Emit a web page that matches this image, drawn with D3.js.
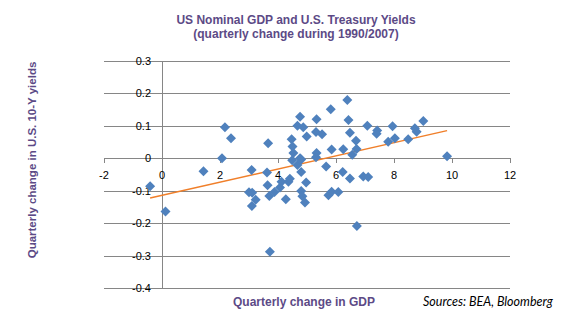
<!DOCTYPE html>
<html>
<head>
    <meta charset="utf-8">
    <title>US Nominal GDP and U.S. Treasury Yields</title>
    <script src="https://d3js.org/d3.v7.min.js"></script>
    <style>
        body {
            margin: 0;
            background-color: #FFFFFF;
        }
        .title, .axis-title {
            font-family: "Liberation Sans", Arial, sans-serif;
            font-weight: bold;
            fill: #5C4A86;
        }
        .tick-label {
            font-family: "Liberation Sans", Arial, sans-serif;
            font-size: 11px;
            fill: #000000;
        }
    </style>
</head>
<body>
    <div id="chart"></div>

    <script>
        // Quarterly change in GDP (x) and in 10-Y yields (y)
        var gdpChange = [
            -0.41, 0.12, 1.43, 2.07, 2.17, 2.38, 3.09, 3.00, 3.11, 3.23,
            3.10, 3.66, 3.62, 3.64, 3.70, 3.72, 3.88, 4.07, 4.12, 4.36,
            4.41, 4.27, 4.47, 4.50, 4.53, 4.49, 4.80, 4.67, 4.76, 4.80,
            4.67, 4.76, 4.87, 4.80, 4.84, 4.97, 4.93, 4.99, 5.31, 5.33,
            5.52, 5.33, 5.31, 5.66, 5.82, 5.85, 5.74, 5.85, 6.08, 6.25,
            6.23, 6.39, 6.43, 6.48, 6.48, 6.69, 6.71, 6.56, 6.72, 6.94,
            7.11, 7.08, 7.42, 7.40, 7.80, 7.95, 8.03, 8.49, 8.72, 8.78,
            9.01, 9.83
        ];
        var yieldChange = [
            -0.086, -0.164, -0.040, 0.000, 0.096, 0.062, -0.036, -0.105, -0.106, -0.128,
            -0.147, 0.046, -0.044, -0.083, -0.116, -0.288, -0.104, -0.090, -0.072, -0.072,
            -0.063, -0.126, 0.059, 0.036, 0.016, -0.006, -0.004, -0.021, 0.000, -0.042,
            0.100, 0.128, 0.096, -0.101, -0.117, -0.075, -0.136, 0.067, 0.081, 0.120,
            0.074, 0.016, 0.003, -0.025, 0.151, 0.027, -0.114, -0.103, -0.104, 0.028,
            -0.042, 0.180, 0.118, 0.079, -0.062, 0.054, 0.029, 0.011, -0.209, -0.056,
            -0.058, 0.100, 0.086, 0.076, 0.051, 0.099, 0.062, 0.059, 0.093, 0.082,
            0.115, 0.006
        ];

        var xTicks = [-2, 0, 2, 4, 6, 8, 10, 12];
        var yTicks = [0.3, 0.2, 0.1, 0, -0.1, -0.2, -0.3, -0.4];
        var yTickLabels = ["0.3", "0.2", "0.1", "0", "-0.1", "-0.2", "-0.3", "-0.4"];

        var points = gdpChange.map(function(v, i) {
            return { x: v, y: yieldChange[i] };
        });

        var width = 586;
        var height = 323;

        var svg = d3.select("#chart")
            .append("svg")
            .attr("width", width)
            .attr("height", height);

        // Scales (plot area in pixels)
        var x = d3.scaleLinear()
            .domain([-2, 12])
            .range([104, 510]);

        var y = d3.scaleLinear()
            .domain([-0.4, 0.3])
            .range([288, 61]);

        // Horizontal gridlines
        svg.append("g")
            .selectAll("line")
            .data(yTicks)
            .join("line")
            .attr("x1", x(-2))
            .attr("x2", x(12))
            .attr("y1", function(d) { return Math.round(y(d)) + 0.5; })
            .attr("y2", function(d) { return Math.round(y(d)) + 0.5; })
            .attr("stroke", "#868686")
            .attr("stroke-width", 1);

        // Y axis line at x = 0
        svg.append("line")
            .attr("x1", Math.round(x(0)) + 0.5)
            .attr("x2", Math.round(x(0)) + 0.5)
            .attr("y1", y(0.3))
            .attr("y2", y(-0.4))
            .attr("stroke", "#868686");

        // X axis ticks on the zero line
        svg.append("g")
            .selectAll("line")
            .data(xTicks)
            .join("line")
            .attr("x1", function(d) { return Math.round(x(d)) + 0.5; })
            .attr("x2", function(d) { return Math.round(x(d)) + 0.5; })
            .attr("y1", Math.round(y(0)))
            .attr("y2", Math.round(y(0)) + 5)
            .attr("stroke", "#868686");

        // Tick labels
        svg.append("g")
            .selectAll("text")
            .data(xTicks)
            .join("text")
            .attr("class", "tick-label")
            .attr("x", function(d) { return x(d); })
            .attr("y", y(0) + 21)
            .attr("text-anchor", "middle")
            .text(function(d) { return d; });

        svg.append("g")
            .selectAll("text")
            .data(yTicks)
            .join("text")
            .attr("class", "tick-label")
            .attr("x", 151)
            .attr("y", function(d) { return y(d) + 4; })
            .attr("text-anchor", "end")
            .text(function(d, i) { return yTickLabels[i]; });

        // Linear trendline (least squares, as Excel does)
        var mx = d3.mean(points, function(d) { return d.x; });
        var my = d3.mean(points, function(d) { return d.y; });
        var sxy = d3.sum(points, function(d) { return (d.x - mx) * (d.y - my); });
        var sxx = d3.sum(points, function(d) { return (d.x - mx) * (d.x - mx); });
        var slope = sxy / sxx;
        var intercept = my - slope * mx;
        var xExt = d3.extent(points, function(d) { return d.x; });

        svg.append("line")
            .attr("x1", x(xExt[0]))
            .attr("y1", y(intercept + slope * xExt[0]))
            .attr("x2", x(xExt[1]))
            .attr("y2", y(intercept + slope * xExt[1]))
            .attr("stroke", "#F07F2A")
            .attr("stroke-width", 1.5);

        // Diamond markers
        svg.append("g")
            .selectAll("path")
            .data(points)
            .join("path")
            .attr("transform", function(d) { return "translate(" + x(d.x) + "," + y(d.y) + ")"; })
            .attr("d", "M0,-5L5,0L0,5L-5,0Z")
            .attr("fill", "#4F81BD");

        // Titles
        svg.append("text")
            .attr("class", "title")
            .attr("x", 296)
            .attr("y", 24)
            .attr("text-anchor", "middle")
            .style("font-size", "12px")
            .text("US Nominal GDP and U.S. Treasury Yields");

        svg.append("text")
            .attr("class", "title")
            .attr("x", 296)
            .attr("y", 38)
            .attr("text-anchor", "middle")
            .style("font-size", "12px")
            .text("(quarterly change during 1990/2007)");

        svg.append("text")
            .attr("class", "axis-title")
            .attr("transform", "translate(36,160) rotate(-90)")
            .attr("text-anchor", "middle")
            .style("font-size", "11.5px")
            .text("Quarterly change in U.S.  10-Y yields");

        svg.append("text")
            .attr("class", "axis-title")
            .attr("x", 304)
            .attr("y", 306)
            .attr("text-anchor", "middle")
            .style("font-size", "12px")
            .text("Quarterly change in GDP");

        svg.append("text")
            .attr("x", 423)
            .attr("y", 306)
            .style("font-family", "Lato, 'Open Sans', sans-serif")
            .style("font-style", "italic")
            .style("font-size", "12.5px")
            .style("fill", "#000000")
            .text("Sources:  BEA, Bloomberg");
    </script>
</body>
</html>
